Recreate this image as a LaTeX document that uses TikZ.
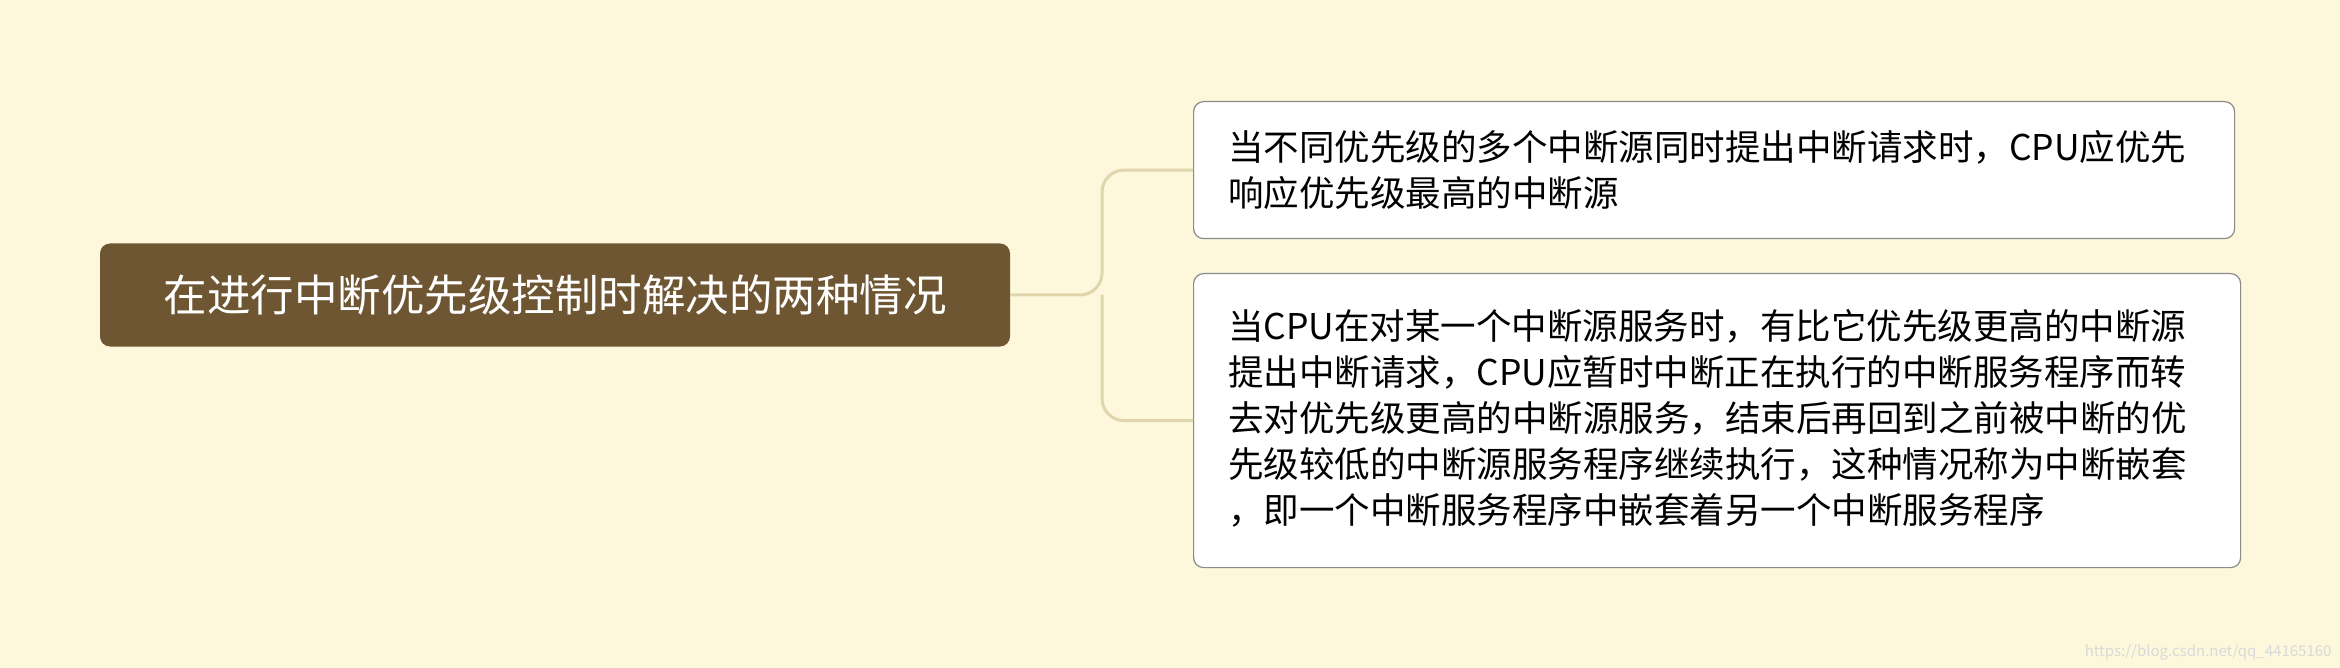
\documentclass[tikz,border=0pt]{standalone}
\usepackage{fontspec}
\setmainfont{Noto Sans CJK SC}
\definecolor{bg}{HTML}{FDF8DC}
\definecolor{rootc}{HTML}{6E5632}
\definecolor{linec}{HTML}{E0D6AE}
\definecolor{bordc}{HTML}{8A8A8A}
\begin{document}
\begin{tikzpicture}[x=1pt,y=-1pt,
  leaf/.style={draw=bordc,line width=1.2pt,fill=white,rounded corners=10pt,anchor=north west,inner sep=0pt},
  ltext/.style={anchor=west,align=left,font=\fontsize{35.5}{46}\selectfont,inner sep=0pt},
  conn/.style={draw=linec,line width=3pt,rounded corners=22pt}]
\useasboundingbox[fill=bg] (0,0) rectangle (2340,668);
\node[fill=rootc,rounded corners=10pt,minimum width=910pt,minimum height=103pt,text=white,font=\fontsize{43.5}{48}\selectfont] (root) at (555,295) {在进行中断优先级控制时解决的两种情况};
\node[leaf,minimum width=1041pt,minimum height=137pt] (c1) at (1193,101) {};
\node[ltext] (t1) at (1228,169.5) {当不同优先级的多个中断源同时提出中断请求时，CPU应优先\\响应优先级最高的中断源};
\node[leaf,minimum width=1047pt,minimum height=294pt] (c2) at (1193,273) {};
\node[ltext] (t2) at (1228,418) {当CPU在对某一个中断源服务时，有比它优先级更高的中断源\\提出中断请求，CPU应暂时中断正在执行的中断服务程序而转\\去对优先级更高的中断源服务，结束后再回到之前被中断的优\\先级较低的中断源服务程序继续执行，这种情况称为中断嵌套\\，即一个中断服务程序中嵌套着另一个中断服务程序};
\draw[conn] (root.east) -- (1102,295) |- (c1.west);
\draw[conn] (1102,295) |- (c2.west);
\node[anchor=south east,text=white!70!gray,font=\fontsize{15}{16}\selectfont] (wm) at (2335,664) {https://blog.csdn.net/qq\_44165160};
\end{tikzpicture}
\end{document}
